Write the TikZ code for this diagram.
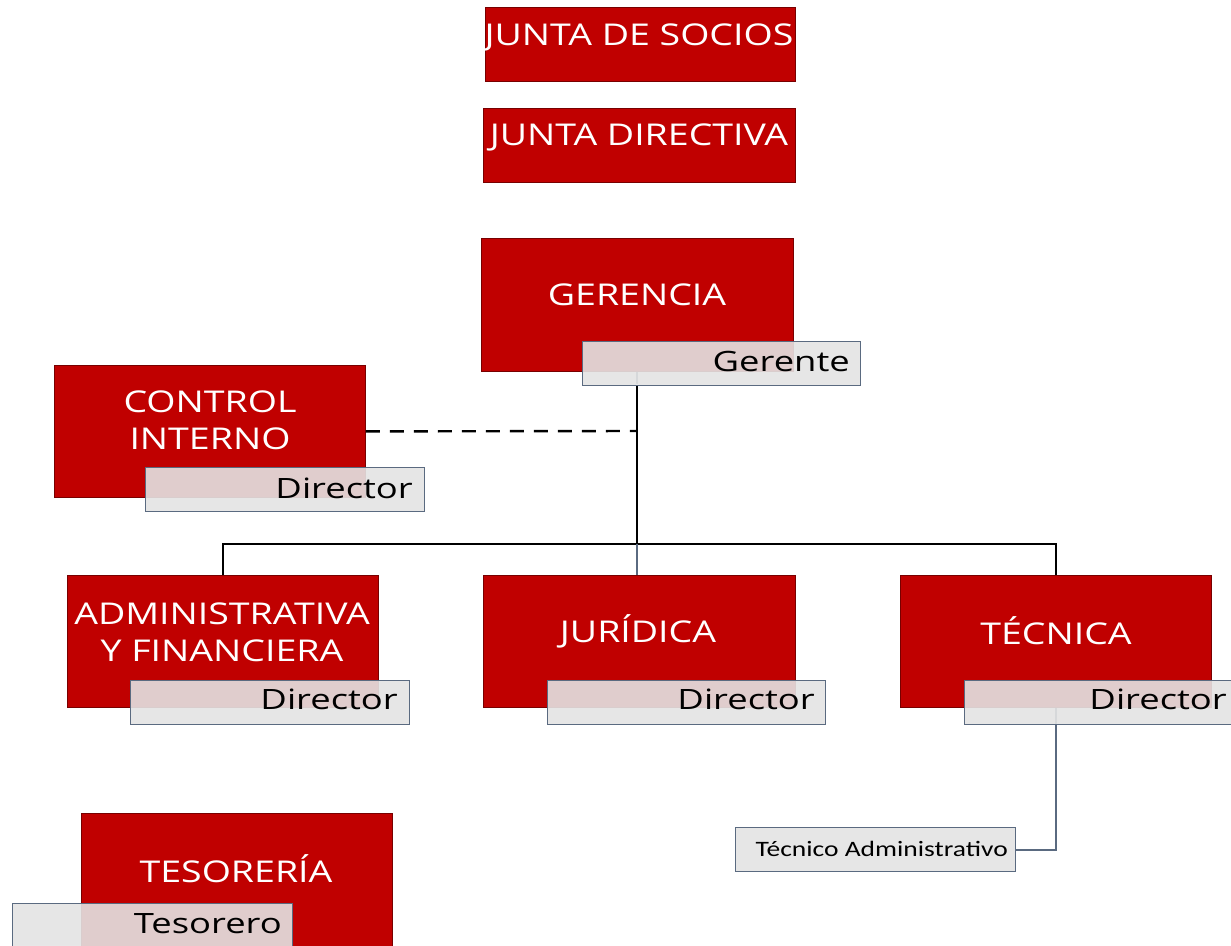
\documentclass[tikz,border=0pt]{standalone}
\usepackage{fontspec}
\setmainfont{Open Sans}
\newfontfamily\titlefont[FakeStretch=1.25]{Open Sans}
\newfontfamily\lblfont[FakeStretch=1.3]{Open Sans}
\newfontfamily\calfont[FakeStretch=1.25]{Carlito}
\definecolor{boxred}{RGB}{192,0,0}
\definecolor{boxedge}{RGB}{120,0,0}
\definecolor{lblfill}{RGB}{228,228,228}
\definecolor{lbledge}{RGB}{90,106,128}
\begin{document}
\begin{tikzpicture}[x=1pt,y=-1pt,
  redbox/.style={draw=boxedge, line width=0.8pt, fill=boxred, anchor=north west, inner sep=0pt},
  title/.style={text=white, font=\titlefont\fontsize{30}{37}\selectfont, align=center, inner sep=0pt},
  lbl/.style={draw=lbledge, line width=1.2pt, fill=lblfill, fill opacity=0.9, draw opacity=1, anchor=north west, inner sep=0pt, minimum height=44pt},
  lbltext/.style={text=black, font=\lblfont\fontsize{28}{32}\selectfont, anchor=east, inner sep=0pt},
  solidline/.style={draw=black, line width=2.8pt},
  thinline/.style={draw=lbledge, line width=2pt},
  dashline/.style={draw=black, line width=2.4pt, dash pattern=on 14pt off 10pt}
]
\clip (0,0) rectangle (1231,945);
\fill[white] (0,0) rectangle (1231,945);

% top boxes
\node[redbox, minimum width=310pt, minimum height=74pt] (socios) at (485,7) {};
\node[title] (sociosT) at (639,37) {JUNTA DE SOCIOS};
\node[redbox, minimum width=312pt, minimum height=74pt] (directiva) at (483,108) {};
\node[title] (directivaT) at (639,137) {JUNTA DIRECTIVA};

% gerencia
\node[redbox, minimum width=312pt, minimum height=133pt] (ger) at (481,238) {};
\node[title] (gerT) at (637,295) {GERENCIA};

% control interno
\node[redbox, minimum width=311pt, minimum height=132pt] (ctrl) at (54,365) {};
\node[title] (ctrlT) at (210,420) {CONTROL\\INTERNO};

% second level
\node[redbox, minimum width=311pt, minimum height=132pt] (adm) at (67,575) {};
\node[title] (admT) at (222,632) {ADMINISTRATIVA\\Y FINANCIERA};
\node[redbox, minimum width=312pt, minimum height=132pt] (jur) at (483,575) {};
\node[title] (jurT) at (638,631) {JURÍDICA};
\node[redbox, minimum width=311pt, minimum height=132pt] (tec) at (900,575) {};
\node[title] (tecT) at (1056,631) {TÉCNICA};

% tesoreria
\node[redbox, minimum width=311pt, minimum height=140pt] (tes) at (81,813) {};
\node[title] (tesT) at (236,869) {TESORERÍA};

% connectors behind labels
\coordinate (hub) at (637,544);
\coordinate (dashend) at (637,431);
\draw[thinline, line width=1.6pt] (ger.south -| hub) -- (637,384);

% labels
\node[lbl, minimum width=280pt, minimum height=44pt] (tadm) at (735,827) {};
\node[text=black, font=\calfont\fontsize{22}{26}\selectfont, anchor=east, inner sep=0pt] (tadmT) at (1008,849) {Técnico Administrativo};
\draw[thinline] (tec.south) |- (tadm.east);
\node[lbl, minimum width=278pt] (gerL) at (582,341) {};
\node[lbltext] (gerLT) at (850,361) {Gerente};
\node[lbl, minimum width=279pt] (ctrlL) at (145,467) {};
\node[lbltext] (ctrlLT) at (413,488) {Director};
\node[lbl, minimum width=279pt] (admL) at (130,680) {};
\node[lbltext] (admLT) at (398,699) {Director};
\node[lbl, minimum width=278pt] (jurL) at (547,680) {};
\node[lbltext] (jurLT) at (815,699) {Director};
\node[lbl, minimum width=279pt] (tecL) at (964,680) {};
\node[lbltext] (tecLT) at (1227,699) {Director};
\node[lbl, minimum width=280pt] (tesL) at (12,903) {};
\node[lbltext] (tesLT) at (282,924) {Tesorero};

% main connectors
\draw[solidline] (gerL.south -| hub) -- (hub);
\draw[dashline] (ctrl.east) -- (dashend);
\draw[solidline] (adm.north) |- (hub) -| (tec.north);
\draw[thinline, line width=1.6pt] (hub) -- (hub |- jur.north);
\end{tikzpicture}
\end{document}
